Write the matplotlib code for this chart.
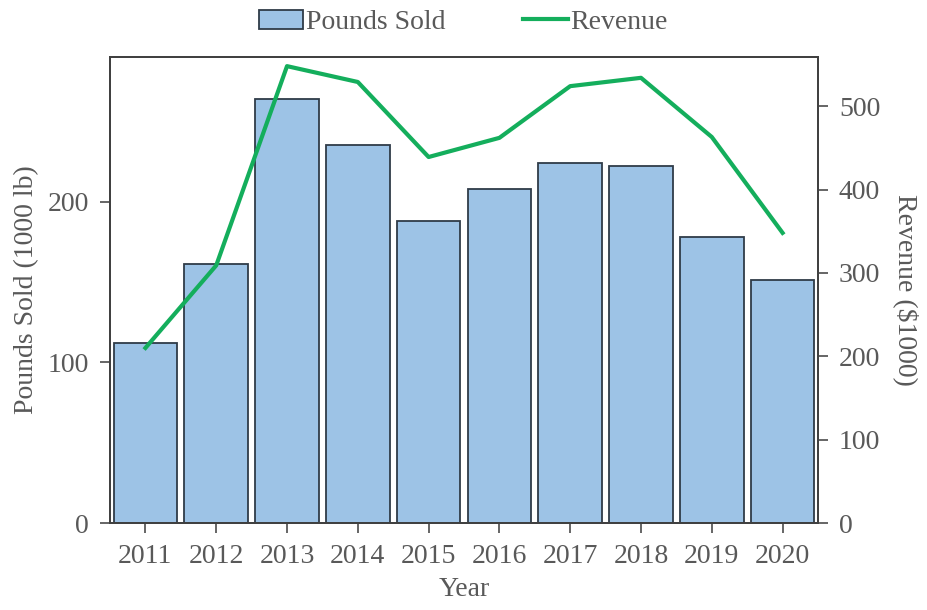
import numpy as np
import matplotlib.pyplot as plt

years = ['2011', '2012', '2013', '2014', '2015', '2016', '2017', '2018', '2019', '2020']
pounds = [112, 161, 264, 235, 188, 208, 224, 222, 178, 151]
revenue = [210, 309, 548, 529, 439, 462, 524, 534, 463, 348]

plt.rcParams['font.family'] = ['Liberation Serif', 'DejaVu Serif']
plt.rcParams['font.size'] = 20
txt = '#595959'
edge = '#404040'

fig = plt.figure(figsize=(9.27, 6.1), dpi=100)
ax = fig.add_axes([0.1187, 0.1426, 0.7637, 0.764])
x = np.arange(len(years))
bars = ax.bar(x, pounds, width=0.9, color='#9DC3E6', edgecolor='#2F3B48',
              linewidth=1.3, label='Pounds Sold')
ax.set_xlim(-0.5, 9.5)
ax.set_ylim(0, 290)
ax.set_yticks([0, 100, 200])
ax.set_xticks(x)
ax.set_xticklabels(years)
ax.set_xlabel('Year', color=txt, labelpad=6)
ax.set_ylabel('Pounds Sold (1000 lb)', color=txt, labelpad=6)

ax2 = ax.twinx()
line, = ax2.plot(x, revenue, color='#14AE5C', linewidth=3, label='Revenue')
ax2.set_ylim(0, 559)
ax2.set_yticks([0, 100, 200, 300, 400, 500])
ax2.set_ylabel('Revenue ($1000)', color=txt, rotation=270, labelpad=28)

for a in (ax, ax2):
    a.tick_params(colors=txt, length=7, width=1.3, direction='out', pad=8)
    for s in a.spines.values():
        s.set_color(edge)
        s.set_linewidth(1.3)

fig.legend([bars, line], ['Pounds Sold', 'Revenue'], loc='upper center',
           bbox_to_anchor=(0.5, 1.025), ncol=2, frameon=False,
           handlelength=1.6, handletextpad=0.1, columnspacing=2.8,
           labelcolor=txt)

fig.savefig('out.png', dpi=100)
